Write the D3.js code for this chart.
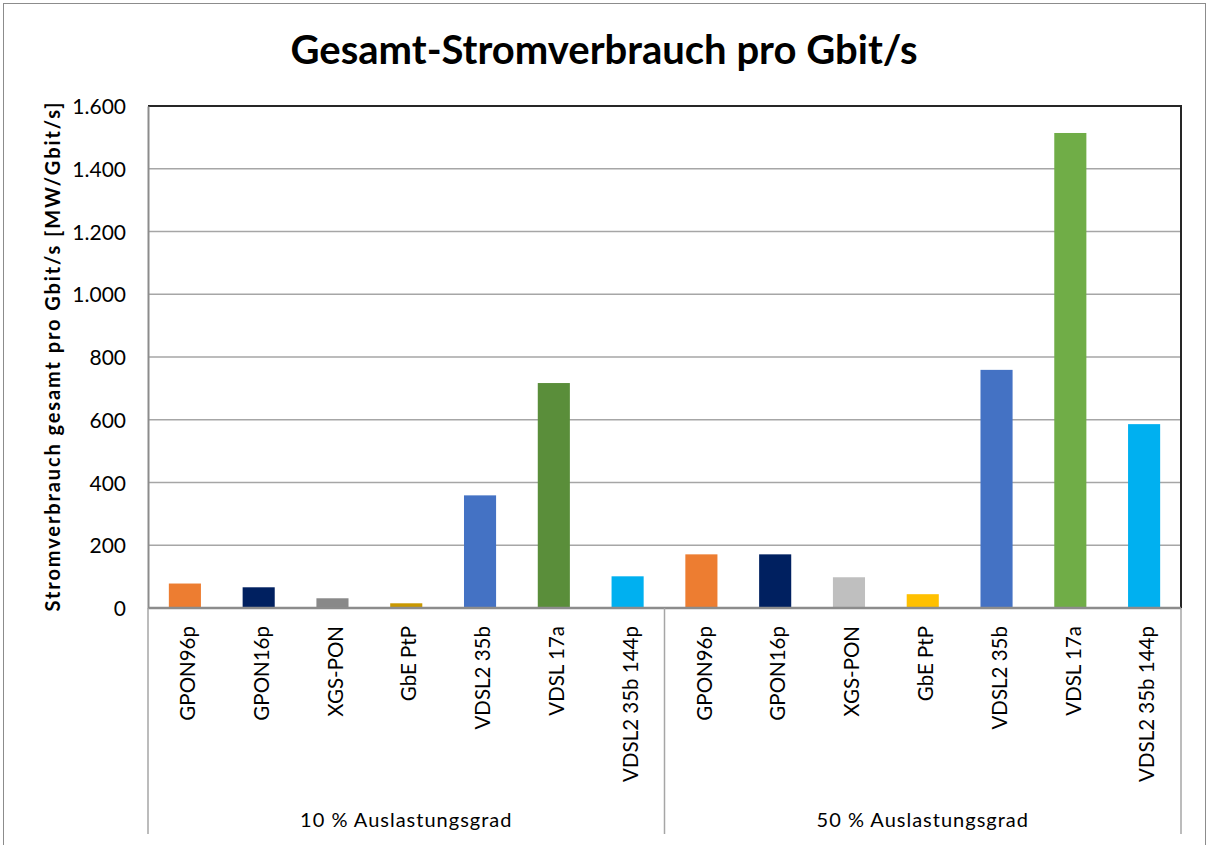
<!DOCTYPE html>
<html>
<head>
<meta charset="utf-8">
<script src="https://cdn.jsdelivr.net/npm/d3@7"></script>
<style>
  body { margin: 0; background: #fff; }
  text { font-family: Lato, "Open Sans", sans-serif; fill: #000; }
</style>
</head>
<body>
<div id="chart"></div>
<script>
// data
const groups = ["10 % Auslastungsgrad", "50 % Auslastungsgrad"];
const techs = ["GPON96p", "GPON16p", "XGS-PON", "GbE PtP", "VDSL2 35b", "VDSL 17a", "VDSL2 35b 144p"];
const values10 = [78, 66, 31, 15, 359, 717, 101];
const values50 = [171, 171, 98, 44, 759, 1514, 586];
const colors10 = ["#ED7D31", "#002060", "#898989", "#C99800", "#4472C4", "#5A8E3A", "#00B0F0"];
const colors50 = ["#ED7D31", "#002060", "#BFBFBF", "#FFC000", "#4472C4", "#70AD47", "#00B0F0"];
const yTicks = [0, 200, 400, 600, 800, 1000, 1200, 1400, 1600];

let rows = [];
groups.forEach(function(g, gi) {
  techs.forEach(function(t, ti) {
    rows.push({
      group: g,
      tech: t,
      key: gi + "_" + ti,
      value: gi == 0 ? values10[ti] : values50[ti],
      color: gi == 0 ? colors10[ti] : colors50[ti]
    });
  });
});

let W = 1207, H = 845;
let margin = { top: 106, right: 26, bottom: 237, left: 148 };
let w = W - margin.left - margin.right;
let h = H - margin.top - margin.bottom;

let svg = d3.select("#chart").append("svg")
  .attr("width", W)
  .attr("height", H);

// outer frame
svg.append("rect")
  .attr("x", 3.5).attr("y", 3.5)
  .attr("width", W - 5).attr("height", H - 2)
  .attr("fill", "none")
  .attr("stroke", "#8c8c8c");

svg.append("text")
  .attr("x", 604).attr("y", 64)
  .attr("text-anchor", "middle")
  .attr("font-size", "40px")
  .attr("font-weight", "bold")
  .text("Gesamt-Stromverbrauch pro Gbit/s");

let g = svg.append("g")
  .attr("transform", `translate(${margin.left}, ${margin.top})`);

let x = d3.scaleBand()
  .domain(rows.map(d => d.key))
  .range([0, w])
  .paddingInner(0.565)
  .paddingOuter(0.2825);

let y = d3.scaleLinear()
  .domain([0, 1600])
  .range([h, 0]);

// gridlines
g.append("g")
  .selectAll("line")
  .data(yTicks.slice(1, -1))
  .enter().append("line")
  .attr("x1", 0).attr("x2", w)
  .attr("y1", d => y(d)).attr("y2", d => y(d))
  .attr("stroke", "#a6a6a6")
  .attr("stroke-width", 1.5);

// plot area frame top / right
g.append("path")
  .attr("d", `M0,${y(1600)}H${w}V${h}`)
  .attr("fill", "none")
  .attr("stroke", "#262626")
  .attr("stroke-width", 2);

// bars
g.selectAll(".bar")
  .data(rows)
  .enter().append("rect")
  .attr("class", "bar")
  .attr("x", d => x(d.key))
  .attr("width", x.bandwidth())
  .attr("y", d => y(d.value))
  .attr("height", d => h - y(d.value))
  .attr("fill", d => d.color);

// y axis
let yAxis = d3.axisLeft(y)
  .tickValues(yTicks)
  .tickSize(0)
  .tickPadding(22)
  .tickFormat(d => d3.format(",")(d).replace(",", "."));

let ya = g.append("g").call(yAxis);
ya.select(".domain").attr("stroke", "#8c8c8c").attr("stroke-width", 2);
ya.selectAll("text")
  .attr("font-size", "21px")
  .attr("font-family", "Lato, sans-serif")
  .attr("dy", "0.36em");

// baseline
g.append("line")
  .attr("x1", 0).attr("x2", w)
  .attr("y1", h).attr("y2", h)
  .attr("stroke", "#8c8c8c")
  .attr("stroke-width", 2.5);

// category labels
g.selectAll(".cat")
  .data(rows)
  .enter().append("text")
  .attr("class", "cat")
  .attr("transform", d => `translate(${x(d.key) + x.bandwidth() / 2 + 3}, ${h + 18}) rotate(-90)`)
  .attr("text-anchor", "end")
  .attr("dy", "0.35em")
  .attr("font-size", "20.5px")
  .text(d => d.tech);

// group separators and labels
let groupW = w / groups.length;
g.selectAll(".sep")
  .data([0, 1, 2])
  .enter().append("line")
  .attr("x1", d => d * groupW).attr("x2", d => d * groupW)
  .attr("y1", h).attr("y2", h + 226)
  .attr("stroke", "#a6a6a6")
  .attr("stroke-width", 1.5);

g.selectAll(".grp")
  .data(groups)
  .enter().append("text")
  .attr("x", (d, i) => (i + 0.5) * groupW)
  .attr("y", h + 219)
  .attr("text-anchor", "middle")
  .attr("font-size", "20px")
  .attr("letter-spacing", "1px")
  .text(d => d);

// y axis title
svg.append("text")
  .attr("transform", "translate(60, 356) rotate(-90)")
  .attr("text-anchor", "middle")
  .attr("font-size", "20px")
  .attr("font-weight", "bold")
  .attr("letter-spacing", "1.9px")
  .text("Stromverbrauch gesamt pro Gbit/s [MW/Gbit/s]");
</script>
</body>
</html>
